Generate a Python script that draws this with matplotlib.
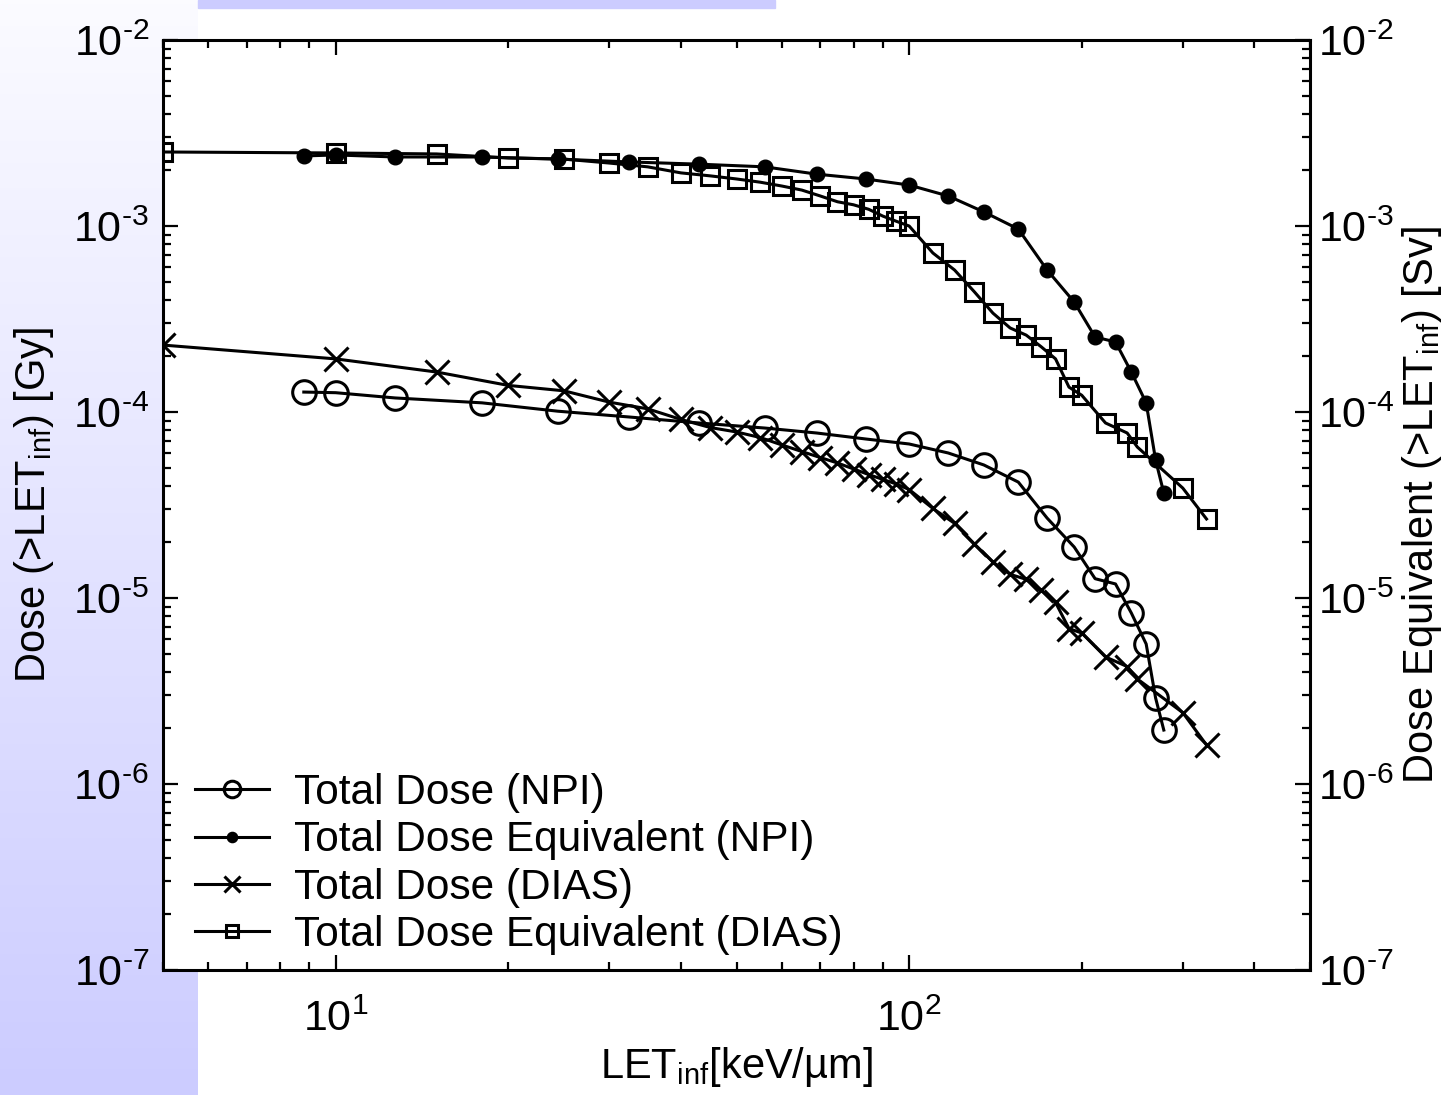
import numpy as np
import matplotlib

matplotlib.use("Agg")
import matplotlib.pyplot as plt
from matplotlib.colors import LinearSegmentedColormap
from matplotlib.patches import Rectangle
from matplotlib.ticker import FuncFormatter

# LET thresholds [keV/um]
let_npi = [8.8, 10, 12.7, 18, 24.4, 32.5, 43, 56, 69, 84, 100, 117, 135, 155,
           174, 194, 211, 229, 244, 259, 269, 278]
let_dias = [5, 10, 15, 20, 25, 30, 35, 40, 45, 50, 55, 60, 65, 70, 75, 80, 85,
            90, 95, 100, 110, 120, 130, 140, 150, 160, 170, 180, 190, 200, 220,
            240, 250, 300, 330]

# integral dose [Gy] / dose equivalent [Sv] above LET
dose_npi = [1.28e-4, 1.27e-4, 1.19e-4, 1.12e-4, 1.01e-4, 9.40e-5, 8.73e-5,
            8.20e-5, 7.71e-5, 7.16e-5, 6.73e-5, 6.02e-5, 5.19e-5, 4.20e-5,
            2.69e-5, 1.88e-5, 1.27e-5, 1.19e-5, 8.31e-6, 5.66e-6, 2.90e-6,
            1.95e-6]
doseeq_npi = [2.38e-3, 2.41e-3, 2.35e-3, 2.35e-3, 2.29e-3, 2.21e-3, 2.15e-3,
              2.08e-3, 1.90e-3, 1.79e-3, 1.66e-3, 1.45e-3, 1.19e-3, 9.63e-4,
              5.80e-4, 3.90e-4, 2.53e-4, 2.38e-4, 1.64e-4, 1.12e-4, 5.52e-5,
              3.67e-5]
dose_dias = [2.29e-4, 1.93e-4, 1.64e-4, 1.39e-4, 1.30e-4, 1.13e-4, 1.04e-4,
             9.12e-5, 8.25e-5, 7.81e-5, 7.29e-5, 6.65e-5, 6.13e-5, 5.69e-5,
             5.32e-5, 4.94e-5, 4.61e-5, 4.34e-5, 4.10e-5, 3.83e-5, 3.03e-5,
             2.52e-5, 1.95e-5, 1.56e-5, 1.34e-5, 1.26e-5, 1.10e-5, 9.46e-6,
             6.85e-6, 6.48e-6, 4.82e-6, 4.28e-6, 3.67e-6, 2.42e-6, 1.62e-6]
doseeq_dias = [2.50e-3, 2.47e-3, 2.44e-3, 2.32e-3, 2.29e-3, 2.18e-3, 2.08e-3,
               1.93e-3, 1.86e-3, 1.79e-3, 1.72e-3, 1.64e-3, 1.56e-3, 1.45e-3,
               1.35e-3, 1.30e-3, 1.23e-3, 1.13e-3, 1.06e-3, 1.00e-3, 7.16e-4,
               5.80e-4, 4.42e-4, 3.40e-4, 2.83e-4, 2.59e-4, 2.24e-4, 1.93e-4,
               1.36e-4, 1.23e-4, 8.73e-5, 7.71e-5, 6.48e-5, 3.90e-5, 2.66e-5]

plt.rcParams["font.family"] = ["Liberation Sans", "DejaVu Sans"]
plt.rcParams["mathtext.fontset"] = "custom"
plt.rcParams["mathtext.rm"] = "Liberation Sans"
plt.rcParams["mathtext.it"] = "Liberation Sans"
plt.rcParams["mathtext.default"] = "regular"


def pow10(v, _pos):
    e = int(round(np.log10(v)))
    if e < 0:
        return r"$10^{\text{-}%d}$" % (-e)
    return r"$10^{%d}$" % e


W, H = 1449, 1095
fig = plt.figure(figsize=(W / 100, H / 100), dpi=100)

# slide background: lavender gradient strip on the left and a bar on top
bg = fig.add_axes([0, 0, 198 / W, 1], zorder=-10)
grad = np.linspace(0, 1, 256).reshape(-1, 1)
cmap = LinearSegmentedColormap.from_list("lav", ["#ccccff", "#fbfbff"])
bg.imshow(grad, aspect="auto", cmap=cmap, origin="lower",
          extent=(0, 1, 0, 1))
bg.axis("off")
fig.patches.append(Rectangle((198 / W, 1 - 8 / H), (775 - 198) / W, 8 / H,
                             transform=fig.transFigure, color="#ccccff",
                             zorder=-10))

ax = fig.add_axes([163 / W, 1 - 970 / H, 1147 / W, 930 / H])
ax.set_facecolor("white")

lw = 2.2
ax.plot(let_npi, dose_npi, "-", color="black", lw=lw, marker="o", ms=17,
        mfc="none", mew=2.2, label="Total Dose (NPI)")
ax.plot(let_npi, doseeq_npi, "-", color="black", lw=lw, marker="o", ms=10.5,
        mfc="black", label="Total Dose Equivalent (NPI)")
ax.plot(let_dias, dose_dias, "-", color="black", lw=lw, marker="x", ms=17,
        mew=2.2, label="Total Dose (DIAS)")
ax.plot(let_dias, doseeq_dias, "-", color="black", lw=lw, marker="s", ms=13,
        mfc="none", mew=2.2, label="Total Dose Equivalent (DIAS)")

ax.set_xscale("log")
ax.set_yscale("log")
ax.set_xlim(5, 500)
ax.set_ylim(1e-7, 1e-2)
ax.xaxis.set_major_formatter(FuncFormatter(pow10))
ax.yaxis.set_major_formatter(FuncFormatter(pow10))

for s in ax.spines.values():
    s.set_linewidth(2.2)

ax.tick_params(which="both", direction="in", top=True, right=False,
               labelsize=31, width=1.6)
ax.tick_params(which="major", length=11)
ax.tick_params(which="minor", length=6)
ax.tick_params(axis="x", pad=21)
ax.tick_params(axis="y", pad=10)

ax2 = ax.twinx()
ax2.set_yscale("log")
ax2.set_ylim(1e-7, 1e-2)
ax2.yaxis.set_major_formatter(FuncFormatter(pow10))
ax2.tick_params(which="both", direction="in", labelsize=31, width=1.6, pad=6)
ax2.tick_params(which="major", length=11)
ax2.tick_params(which="minor", length=6)

ax.set_xlabel("LET$_{inf}$[keV/µm]", fontsize=30, labelpad=4)
ax.set_ylabel("Dose (>LET$_{inf}$) [Gy]", fontsize=30, labelpad=12)
ax2.set_ylabel("Dose Equivalent (>LET$_{inf}$) [Sv]", fontsize=30,
               labelpad=4)

ax.legend(loc="lower left", bbox_to_anchor=(0.002, -0.0156), frameon=False,
          fontsize=30.5, handlelength=1.75, handletextpad=0.6,
          labelspacing=0.17, markerscale=0.7, borderaxespad=0.3)

fig.savefig("out.png", dpi=100)
